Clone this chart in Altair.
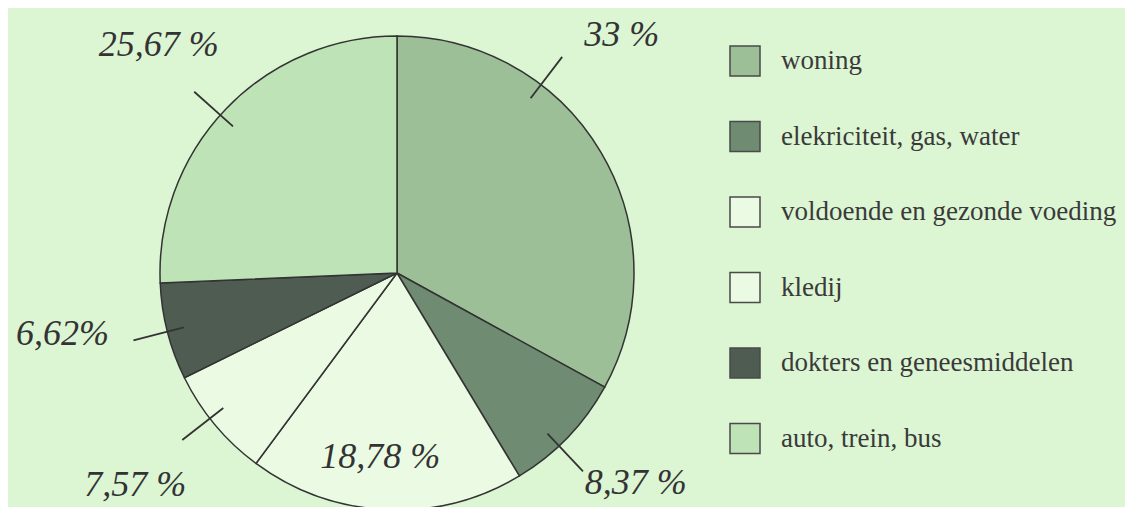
import math
import pandas as pd
import altair as alt

# ---- data ----
categories = ["woning", "elekriciteit, gas, water", "voldoende en gezonde voeding",
              "kledij", "dokters en geneesmiddelen", "auto, trein, bus"]
values = [33, 8.37, 18.78, 7.57, 6.62, 25.67]
value_labels = ["33 %", "8,37 %", "18,78 %", "7,57 %", "6,62%", "25,67 %"]

# ---- styling / layout (not data) ----
colors = ["#9dbf98", "#6f8b72", "#ebfbe3", "#ebfbe3", "#4f5c52", "#bee3b6"]
bg = "#dcf5d3"
ink = "#333333"
W, H = 778, 530
R = 237
label_shift = [-16, -2.5, 2.5, 0.8, 4, 0]       # degrees relative to slice middle
label_radius = [327, 318, 185, 337, 340, 330]
leader_shift = [-22, 3, None, 2, 0, -2]
leader_in, leader_out = 220, 272

total = sum(values)
rows, lab_rows, lead_rows = [], [], []
cum = 0.0
for i, (c, v, t) in enumerate(zip(categories, values, value_labels)):
    mid = (cum + v / 2) / total * 360
    cum += v
    rows.append({"cat": c, "value": v, "idx": i})
    a = math.radians(mid + label_shift[i])
    lab_rows.append({"text": t, "x": label_radius[i] * math.sin(a),
                     "y": label_radius[i] * math.cos(a)})
    if leader_shift[i] is not None:
        b = math.radians(mid + leader_shift[i])
        lead_rows.append({"x": leader_in * math.sin(b), "y": leader_in * math.cos(b),
                          "x2": leader_out * math.sin(b), "y2": leader_out * math.cos(b)})

df = pd.DataFrame(rows)
df_lab = pd.DataFrame(lab_rows)
df_lead = pd.DataFrame(lead_rows)

xs = alt.Scale(domain=[-W / 2, W / 2], nice=False, zero=False)
ys = alt.Scale(domain=[-H / 2, H / 2], nice=False, zero=False)

pie = alt.Chart(df).mark_arc(outerRadius=R, stroke=ink, strokeWidth=1.5).encode(
    theta=alt.Theta("value:Q", stack=True),
    order=alt.Order("idx:Q", sort="ascending"),
    color=alt.Color(
        "cat:N",
        sort=categories,
        scale=alt.Scale(domain=categories, range=colors),
        legend=alt.Legend(
            orient="none", legendX=721, legendY=37, title=None,
            symbolType="square", symbolSize=900, symbolStrokeColor="#4a4a4a",
            symbolStrokeWidth=1.5, symbolOpacity=1,
            labelFont="Liberation Serif", labelFontSize=27, labelColor="#3a3a3a",
            labelOffset=20, rowPadding=39.5, labelLimit=700, padding=0,
        ),
    ),
)

leaders = alt.Chart(df_lead).mark_rule(color=ink, strokeWidth=1.8).encode(
    x=alt.X("x:Q", scale=xs, axis=None),
    y=alt.Y("y:Q", scale=ys, axis=None),
    x2="x2:Q",
    y2="y2:Q",
)

texts = alt.Chart(df_lab).mark_text(
    font="Liberation Serif", fontStyle="italic", fontSize=36, color=ink,
    align="center", baseline="middle",
).encode(
    x=alt.X("x:Q", scale=xs, axis=None),
    y=alt.Y("y:Q", scale=ys, axis=None),
    text="text:N",
)

chart = (
    alt.layer(pie, leaders, texts)
    .resolve_scale(color="independent")
    .properties(width=W, height=H, background=bg,
                padding={"left": 0, "top": 0, "right": 8, "bottom": 0})
    .configure_view(stroke=None)
)

chart.save("out.html", embed_options={"renderer": "svg", "actions": False})
